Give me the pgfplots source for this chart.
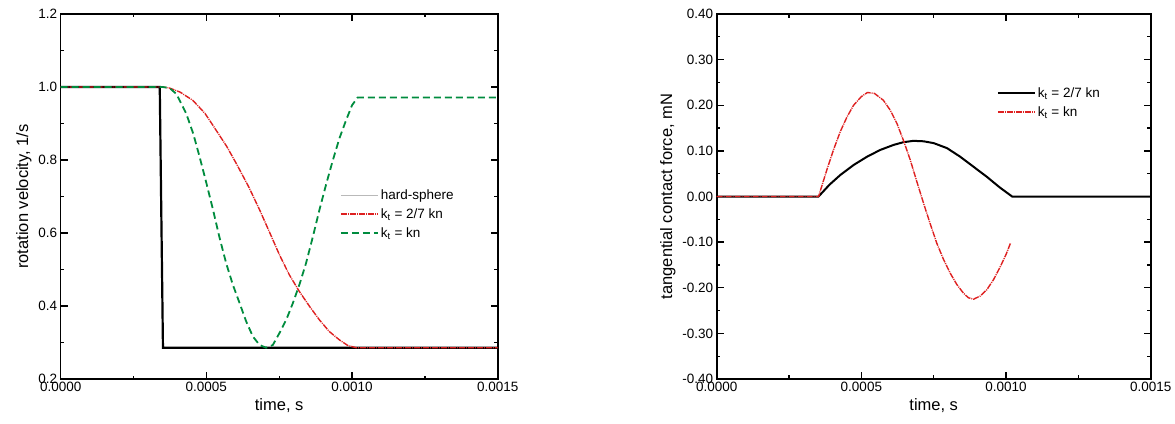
\documentclass[border=0pt]{standalone}
\usepackage{fontspec}
\setmainfont{Liberation Sans}
\usepackage{pgfplots}
\pgfplotsset{compat=1.18}
\definecolor{cred}{RGB}{222,32,32}
\definecolor{cgreen}{RGB}{0,140,62}
\pgfplotsset{
  timeaxis/.style={
    scale only axis, width=437pt, height=365pt,
    font=\fontsize{13.5}{15}\selectfont,
    label style={font=\fontsize{16.5}{18}\selectfont},
    axis line style={line width=1.6pt},
    every tick/.style={black, line width=1.3pt},
    major tick length=7pt, minor tick length=3.5pt,
    xmin=0, xmax=0.0015,
    xtick={0,0.0005,0.001,0.0015}, minor x tick num=1,
    scaled x ticks=false, scaled y ticks=false,
    xticklabel style={/pgf/number format/.cd, fixed, fixed zerofill, precision=4, assume math mode=true},
    yticklabel style={/pgf/number format/assume math mode=true},
    xlabel={time, s},
    legend style={draw=none, fill=none, font=\fontsize{13.5}{15}\selectfont,
      row sep=3.5pt, /tikz/every even column/.append style={column sep=6pt}},
    legend cell align=left,
    legend image code/.code={\draw[##1] (0pt,0pt) -- (37pt,0pt);},
  }
}
\begin{document}
\begin{tikzpicture}
\path[use as bounding box] (0,0) rectangle (1175pt,423pt);
\begin{axis}[timeaxis, at={(60.7pt,44pt)}, anchor=south west,
    ymin=0.2, ymax=1.2, ytick={0.2,0.4,0.6,0.8,1.0,1.2}, minor y tick num=1,
    yticklabel style={/pgf/number format/.cd, fixed, fixed zerofill, precision=1},
    ylabel={rotation velocity, 1/s},
    legend style={at={(rel axis cs:0.632,0.53)}, anchor=north west}]
% hard-sphere
\addplot[black, line width=2.2pt, forget plot] coordinates {
  (0,1) (0.000340,1) (0.000351,0.2857) (0.0015,0.2857)};
\addlegendimage{gray!55, line width=0.8pt}
\addlegendentry{hard-sphere}
% kt = 2/7 kn
\addplot[cred, line width=1.4pt, dash pattern=on 6pt off 1pt on 1pt off 1pt] coordinates {
  (0,1) (0.000350,1) (0.000374,0.997) (0.000410,0.986) (0.000454,0.963)
  (0.000495,0.928) (0.000534,0.881) (0.000570,0.837) (0.000603,0.790)
  (0.000645,0.727) (0.000683,0.663) (0.000718,0.600) (0.000751,0.540)
  (0.000785,0.485) (0.000819,0.440) (0.000855,0.398) (0.000888,0.362)
  (0.000922,0.330) (0.000957,0.307) (0.000985,0.292) (0.001014,0.2857)
  (0.0015,0.2857)};
\addlegendentry{k$_\mathrm{t}$ = 2/7 kn}
% kt = kn
\addplot[cgreen, line width=1.8pt, dash pattern=on 7pt off 4pt] coordinates {
  (0,1) (0.000350,1) (0.000374,0.997) (0.000397,0.981) (0.000431,0.927)
  (0.000455,0.872) (0.000477,0.808) (0.000500,0.737) (0.000523,0.663)
  (0.000545,0.588) (0.000568,0.517) (0.000591,0.458) (0.000614,0.408)
  (0.000637,0.357) (0.000660,0.316) (0.000683,0.293) (0.000705,0.2857)
  (0.000728,0.293) (0.000751,0.326) (0.000774,0.362) (0.000797,0.408)
  (0.000820,0.460) (0.000842,0.517) (0.000865,0.588) (0.000888,0.663)
  (0.000911,0.733) (0.000934,0.799) (0.000957,0.860) (0.000979,0.908)
  (0.001000,0.950) (0.001019,0.971) (0.0015,0.971)};
\addlegendentry{k$_\mathrm{t}$ = kn}
\end{axis}
\begin{axis}[timeaxis, at={(716.7pt,44pt)}, anchor=south west, width=434pt,
    ymin=-0.4, ymax=0.4, ytick={-0.4,-0.3,-0.2,-0.1,0,0.1,0.2,0.3,0.4}, minor y tick num=1,
    yticklabel style={/pgf/number format/.cd, fixed, fixed zerofill, precision=2},
    ylabel={tangential contact force, mN},
    legend style={at={(rel axis cs:0.638,0.81)}, anchor=north west}]
% kt = 2/7 kn
\addplot[black, line width=2pt] coordinates {
  (0,0) (0.000352,0) (0.000390,0.026) (0.000427,0.047) (0.000473,0.069)
  (0.000519,0.087) (0.000565,0.102) (0.000611,0.113) (0.000645,0.119)
  (0.000680,0.122) (0.000715,0.121) (0.000750,0.117) (0.000796,0.106)
  (0.000842,0.087) (0.000888,0.065) (0.000934,0.043) (0.000978,0.020)
  (0.001021,0) (0.0015,0)};
\addlegendentry{k$_\mathrm{t}$ = 2/7 kn}
% kt = kn
\addplot[cred, line width=1.4pt, dash pattern=on 6pt off 1pt on 1pt off 1pt] coordinates {
  (0,0) (0.000352,0) (0.000381,0.059) (0.000404,0.103) (0.000427,0.142)
  (0.000450,0.174) (0.000473,0.200) (0.000500,0.219) (0.000521,0.228)
  (0.000545,0.226) (0.000576,0.211) (0.000600,0.189) (0.000623,0.160)
  (0.000646,0.122) (0.000669,0.080) (0.000692,0.032) (0.000715,-0.015)
  (0.000738,-0.060) (0.000761,-0.103) (0.000784,-0.138) (0.000807,-0.168)
  (0.000830,-0.193) (0.000853,-0.212) (0.000870,-0.222) (0.000888,-0.225)
  (0.000911,-0.218) (0.000934,-0.204) (0.000957,-0.182) (0.000980,-0.154)
  (0.001000,-0.127) (0.001015,-0.103)};
\addlegendentry{k$_\mathrm{t}$ = kn}
\end{axis}
\end{tikzpicture}
\end{document}
